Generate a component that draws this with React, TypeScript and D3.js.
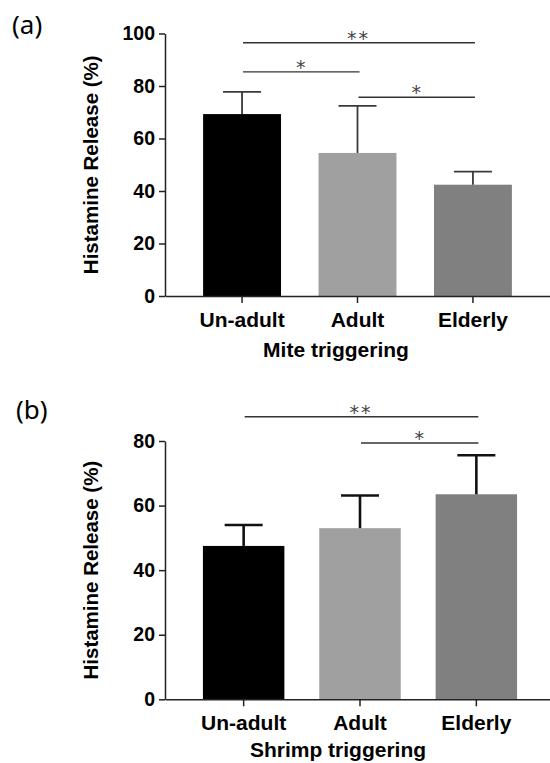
import { useEffect, useRef } from "react";
import * as d3 from "d3";

// data
const categories = ["Un-adult", "Adult", "Elderly"];
const colors = ["#000000", "#a0a0a0", "#808080"];

const miteMeans = [69.3, 54.5, 42.4];
const miteUpper = [77.8, 72.4, 47.4];
const miteTicks = [0, 20, 40, 60, 80, 100];
const miteSig = [
  { from: "Un-adult", to: "Elderly", level: 96.5, label: "**" },
  { from: "Un-adult", to: "Adult", level: 85.4, label: "*" },
  { from: "Adult", to: "Elderly", level: 75.7, label: "*" },
];

const shrimpMeans = [47.5, 53.0, 63.5];
const shrimpUpper = [54.0, 63.1, 75.6];
const shrimpTicks = [0, 20, 40, 60, 80];
const shrimpSig = [
  { from: "Un-adult", to: "Elderly", level: 87.5, label: "**" },
  { from: "Adult", to: "Elderly", level: 79.4, label: "*" },
];

const W = 550;
const H = 763;
const FONT = "'Liberation Sans', Arial, sans-serif";

function drawPanel(svg, p) {
  const g = svg.append("g");
  const x = d3
    .scaleBand()
    .domain(categories)
    .range([165, p.xEnd])
    .paddingInner(p.padIn)
    .paddingOuter(p.padOut);
  const y = d3.scaleLinear().domain([0, p.max]).range([p.y0, p.y1]);

  // bars
  g.selectAll("rect.bar")
    .data(p.means)
    .join("rect")
    .attr("x", (d, i) => x(categories[i]))
    .attr("y", (d) => y(d))
    .attr("width", x.bandwidth())
    .attr("height", (d) => y(0) - y(d))
    .attr("fill", (d, i) => colors[i]);

  // error bars
  const cx = (i) => x(categories[i]) + x.bandwidth() / 2;
  const eb = g
    .selectAll("g.err")
    .data(p.upper)
    .join("g")
    .attr("stroke", p.errColor)
    .attr("stroke-width", p.errWidth);
  eb.append("line")
    .attr("x1", (d, i) => cx(i))
    .attr("x2", (d, i) => cx(i))
    .attr("y1", (d, i) => y(p.means[i]))
    .attr("y2", (d) => y(d));
  eb.append("line")
    .attr("x1", (d, i) => cx(i) - 19)
    .attr("x2", (d, i) => cx(i) + 19)
    .attr("y1", (d) => y(d))
    .attr("y2", (d) => y(d));

  // axes
  const yAxis = g
    .append("g")
    .attr("transform", "translate(165,0)")
    .call(d3.axisLeft(y).tickValues(p.ticks).tickSize(6).tickSizeOuter(0).tickPadding(4));
  const xAxis = g
    .append("g")
    .attr("transform", `translate(0,${p.y0})`)
    .call(d3.axisBottom(x).tickSize(7).tickSizeOuter(0).tickPadding(9));
  [yAxis, xAxis].forEach((a) => {
    a.selectAll("path, line").attr("stroke", "#222").attr("stroke-width", 1.5);
    a.selectAll("text")
      .attr("fill", "#000")
      .style("font-family", FONT)
      .style("font-weight", "bold");
  });
  yAxis.selectAll("text").style("font-size", "19.5px");
  xAxis.selectAll("text").style("font-size", "21px");

  // significance brackets
  const sig = g.selectAll("g.sig").data(p.sig).join("g");
  sig.append("line")
    .attr("x1", (d) => x(d.from) + x.bandwidth() / 2 + 1)
    .attr("x2", (d) => x(d.to) + x.bandwidth() / 2 + 2)
    .attr("y1", (d) => y(d.level))
    .attr("y2", (d) => y(d.level))
    .attr("stroke", "#333")
    .attr("stroke-width", 1.4);
  sig.append("text")
    .attr("x", (d) => (x(d.from) + x(d.to)) / 2 + x.bandwidth() / 2 + 1)
    .attr("y", (d) => y(d.level) + 2)
    .attr("text-anchor", "middle")
    .style("font-family", "'DejaVu Sans', sans-serif")
    .style("font-size", "19px")
    .style("letter-spacing", (d) => (d.label.length > 1 ? "2px" : "0px"))
    .attr("fill", "#444")
    .text((d) => d.label);

  // titles
  g.append("text")
    .attr("transform", `translate(97.5,${(p.y0 + p.y1) / 2}) rotate(-90)`)
    .attr("text-anchor", "middle")
    .style("font-family", FONT)
    .style("font-weight", "bold")
    .style("font-size", "20.5px")
    .text("Histamine Release (%)");
  g.append("text")
    .attr("x", p.titleX)
    .attr("y", p.titleY)
    .attr("text-anchor", "middle")
    .style("font-family", FONT)
    .style("font-weight", "bold")
    .style("font-size", "21px")
    .text(p.title);
  g.append("text")
    .attr("x", p.labelX)
    .attr("y", p.labelY)
    .style("font-family", "'Noto Sans', 'Open Sans', sans-serif")
    .style("font-size", "26px")
    .text(p.panel);
}

export default function App() {
  const svgRef = useRef(null);

  useEffect(() => {
    const svg = d3.select(svgRef.current);
    svg.selectAll("*").remove();
    svg.append("rect").attr("width", W).attr("height", H).attr("fill", "#fff");

    drawPanel(svg, {
      means: miteMeans,
      upper: miteUpper,
      ticks: miteTicks,
      sig: miteSig,
      max: 100,
      y0: 296,
      y1: 33.5,
      xEnd: 550,
      padIn: 0.325,
      padOut: 0.33,
      errColor: "#3a3a3a",
      errWidth: 1.8,
      title: "Mite triggering",
      titleX: 336,
      titleY: 356.5,
      panel: "(a)",
      labelX: 12,
      labelY: 34,
    });

    drawPanel(svg, {
      means: shrimpMeans,
      upper: shrimpUpper,
      ticks: shrimpTicks,
      sig: shrimpSig,
      max: 80,
      y0: 699.3,
      y1: 441,
      xEnd: 555,
      padIn: 0.3,
      padOut: 0.326,
      errColor: "#111",
      errWidth: 2.6,
      title: "Shrimp triggering",
      titleX: 338,
      titleY: 756.5,
      panel: "(b)",
      labelX: 16,
      labelY: 419,
    });
  }, []);

  return (
    <div style={{ position: "absolute", left: 0, top: 0 }}>
      <svg ref={svgRef} width={W} height={H} style={{ display: "block" }}></svg>
    </div>
  );
}
